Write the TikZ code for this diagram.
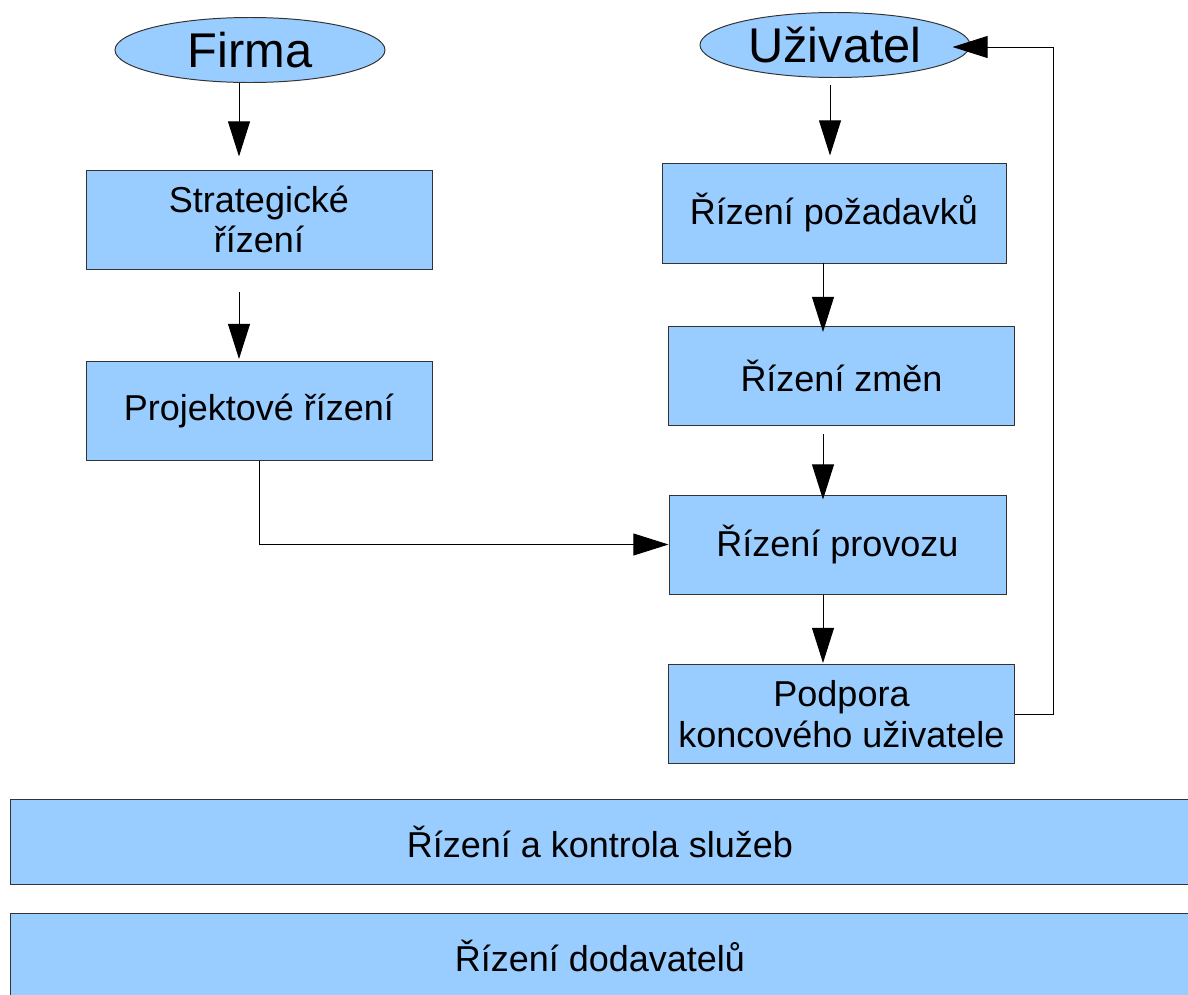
\documentclass[tikz,border=0pt]{standalone}
\usepackage{fontspec}
\setmainfont{Liberation Sans}
\usepackage{tikz}
\usetikzlibrary{shapes.geometric}
\usetikzlibrary{arrows.meta,calc,positioning}
\definecolor{boxblue}{HTML}{99CCFF}

\begin{document}
\begin{tikzpicture}[box/.style={rectangle, draw=black!80, fill=boxblue, line width=0.7pt, minimum width=8.65cm, minimum height=2.475cm, align=center, inner sep=0pt, font=\fontsize{25.6}{29}\selectfont},
    widebox/.style={box, minimum width=29.5cm, minimum height=2.125cm},
    oval/.style={ellipse, draw=black!80, fill=boxblue, line width=0.7pt, minimum width=6.75cm, minimum height=1.625cm, inner sep=0pt, font=\fontsize{34.7}{38}\selectfont},
    arr/.style={-{Triangle[length=0.88cm,width=0.55cm]}, line width=0.7pt}]

            \useasboundingbox (0,0) rectangle (29.7,-24.85);
            \clip (0,0) rectangle (29.7,-24.85);

            \node[oval] (firma) at (6.25,-1.25) {Firma};
            \node[oval] (uziv) at (20.875,-1.125) {Uživatel};

            \node[box] (strat) at (6.475,-5.4875) {Strategické\\ řízení};
            \node[box] (proj) at (6.475,-10.275) {Projektové řízení};

            \node[box, minimum width=8.6cm, minimum height=2.5cm] (pozad) at (20.85,-5.325) {Řízení požadavků};
            \node[box] (zmen) at (21.0375,-9.4) {Řízení změn};
            \node[box, minimum width=8.425cm] (provoz) at (20.9375,-13.6125) {Řízení provozu};
            \node[box] (podpora) at (21.0375,-17.85) {Podpora\\ koncového uživatele};

            \node[widebox] (sluzby) at (15,-21.0375) {Řízení a kontrola služeb};
            \node[widebox] (dodav) at (15,-23.8875) {Řízení dodavatelů};


            \foreach \s/ \d/ \dx/ \a/ \b in {firma/strat/-0.275/0/0.325, strat/proj/-0.5/0.575/0.05, uziv/pozad/-0.125/0.175/0.175, pozad/zmen/-0.275/0/-0.15, zmen/provoz/-0.4625/0.2/-0.125, provoz/podpora/-0.3625/0/0.025}{
                \draw[arr, shorten <=\a cm, shorten >=\b cm] ($(\s.south)+(\dx,0)$) -- ($(\s.south |- \d.north)+(\dx,0)$);
            }

            \draw[arr] (proj.south) |- (provoz.west);
            \draw[arr] (podpora.east) -| ($(uziv.east)+(2.075,-0.05)$) -- ($(uziv.east)+(-0.45,-0.05)$);

    \end{tikzpicture}
\end{document}
